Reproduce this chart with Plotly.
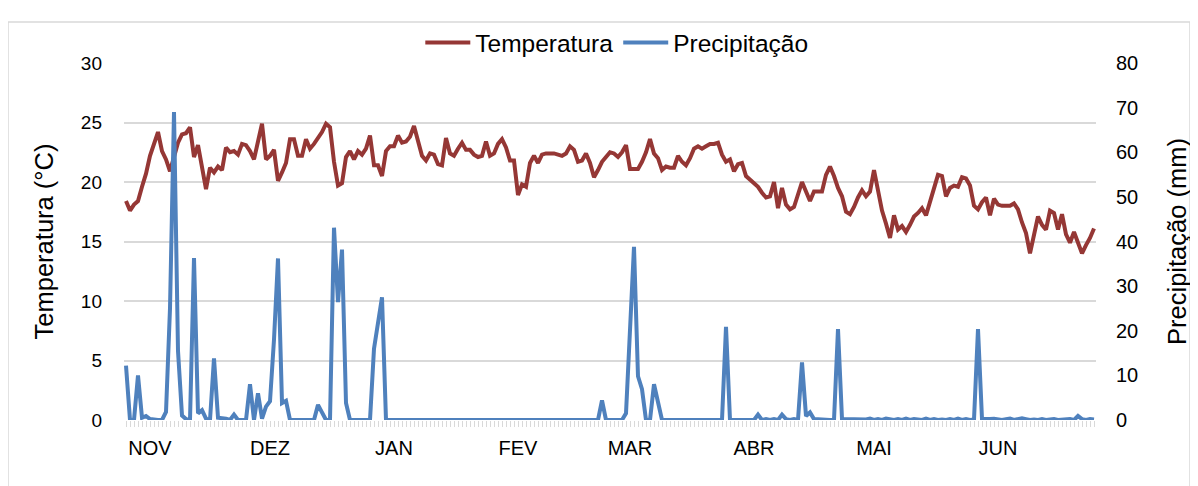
import pandas as pd
import plotly.graph_objects as go

# Daily categories (26 Oct -> 25 Jun)
dates = pd.date_range("2014-10-26", periods=243, freq="D")

month_ticks = ["2014-11-01", "2014-12-01", "2015-01-01", "2015-02-01",
               "2015-03-01", "2015-04-01", "2015-05-01", "2015-06-01"]
month_labels = ["NOV", "DEZ", "JAN", "FEV", "MAR", "ABR", "MAI", "JUN"]

temperatura = [
    18.4, 17.6, 18.1, 18.4, 19.6, 20.7, 22.2, 23.2, 24.2, 22.6,
    21.9, 20.9, 22.0, 23.3, 24.0, 24.1, 24.6, 22.1, 23.1, 21.2,
    19.4, 21.2, 20.8, 21.3, 21.0, 22.9, 22.5, 22.6, 22.3, 23.2,
    23.1, 22.6, 21.9, 23.4, 24.9, 21.9, 22.2, 22.7, 20.1, 20.8,
    21.6, 23.6, 23.6, 22.2, 22.2, 23.6, 22.8, 23.2, 23.7, 24.2,
    24.9, 24.6, 21.7, 19.7, 19.9, 22.1, 22.6, 21.9, 22.6, 22.3,
    22.8, 23.9, 21.4, 21.4, 20.5, 22.6, 23.0, 23.0, 23.9, 23.3,
    23.4, 23.8, 24.7, 23.4, 22.2, 21.8, 22.4, 22.3, 21.5, 21.4,
    23.7, 22.4, 22.2, 22.8, 23.3, 22.7, 22.7, 22.3, 22.1, 22.2,
    23.4, 22.2, 22.4, 23.2, 23.6, 22.9, 21.8, 21.8, 18.9, 19.8,
    19.6, 21.6, 22.2, 21.6, 22.3, 22.4, 22.4, 22.4, 22.3, 22.2,
    22.4, 23.0, 22.7, 21.7, 21.8, 22.4, 21.6, 20.4, 21.0, 21.7,
    22.1, 22.5, 22.4, 22.1, 22.5, 23.1, 21.1, 21.1, 21.1, 21.7,
    22.5, 23.6, 22.4, 22.0, 21.0, 21.3, 21.2, 21.2, 22.2, 21.7,
    21.4, 22.0, 22.8, 23.0, 22.8, 23.0, 23.2, 23.2, 23.3, 22.3,
    21.7, 21.9, 20.9, 21.5, 21.6, 20.5, 20.2, 20.0, 19.6, 19.1,
    18.7, 18.8, 20.0, 17.8, 19.5, 18.1, 17.7, 17.9, 19.0, 20.0,
    19.2, 18.4, 19.2, 19.2, 19.2, 20.6, 21.3, 20.5, 19.5, 18.8,
    17.5, 17.3, 17.9, 18.7, 19.3, 18.8, 19.2, 21.0, 19.2, 17.6,
    16.5, 15.3, 17.2, 16.0, 16.3, 15.8, 16.4, 17.1, 17.4, 17.8,
    17.2, 18.3, 19.6, 20.6, 20.5, 18.8, 19.5, 19.7, 19.6, 20.4,
    20.3, 19.7, 18.0, 17.7, 18.3, 18.7, 17.2, 18.6, 18.1, 18.0,
    18.0, 18.0, 18.2, 17.7, 16.6, 15.7, 14.0, 15.6, 17.1, 16.4,
    16.0, 17.6, 17.4, 16.0, 17.3, 15.6, 14.9, 15.8, 14.9, 14.0,
    14.7, 15.3, 16.1,
]

precipitacao = [
    12.2, 0.0, 0.0, 10.0, 0.5, 0.9, 0.2, 0.0, 0.0, 0.0,
    1.8, 25.0, 69.0, 15.5, 1.0, 0.2, 0.0, 36.3, 1.5, 2.2,
    0.3, 0.0, 13.8, 0.5, 0.5, 0.3, 0.0, 1.2, 0.0, 0.0,
    0.0, 8.0, 0.0, 6.0, 0.3, 3.0, 4.2, 18.0, 36.2, 3.8,
    4.3, 0.0, 0.0, 0.0, 0.0, 0.0, 0.0, 0.0, 3.4, 1.5,
    0.0, 0.0, 43.1, 26.4, 38.2, 3.8, 0.0, 0.0, 0.0, 0.0,
    0.0, 0.0, 16.0, 21.7, 27.5, 0.0, 0.0, 0.0, 0.0, 0.0,
    0.0, 0.0, 0.0, 0.0, 0.0, 0.0, 0.0, 0.0, 0.0, 0.0,
    0.0, 0.0, 0.0, 0.0, 0.0, 0.0, 0.0, 0.0, 0.0, 0.0,
    0.0, 0.0, 0.0, 0.0, 0.0, 0.0, 0.0, 0.0, 0.0, 0.0,
    0.0, 0.0, 0.0, 0.0, 0.0, 0.0, 0.0, 0.0, 0.0, 0.0,
    0.0, 0.0, 0.0, 0.0, 0.0, 0.0, 0.0, 0.0, 0.0, 4.4,
    0.0, 0.0, 0.0, 0.0, 0.0, 1.5, 19.0, 38.8, 9.8, 6.9,
    0.0, 0.0, 8.0, 3.5, 0.0, 0.0, 0.0, 0.2, 0.0, 0.2,
    0.1, 0.0, 0.0, 0.2, 0.0, 0.0, 0.0, 0.0, 0.0, 0.0,
    20.9, 0.0, 0.0, 0.0, 0.0, 0.0, 0.0, 0.0, 1.2, 0.0,
    0.2, 0.0, 0.2, 0.0, 1.2, 0.2, 0.0, 0.2, 0.0, 12.9,
    0.9, 1.7, 0.2, 0.1, 0.0, 0.0, 0.0, 0.0, 20.4, 0.2,
    0.2, 0.0, 0.0, 0.2, 0.0, 0.1, 0.3, 0.0, 0.2, 0.0,
    0.3, 0.1, 0.0, 0.2, 0.0, 0.3, 0.0, 0.2, 0.1, 0.0,
    0.3, 0.0, 0.2, 0.0, 0.1, 0.0, 0.2, 0.0, 0.3, 0.0,
    0.2, 0.0, 0.1, 20.4, 0.2, 0.1, 0.2, 0.3, 0.1, 0.0,
    0.2, 0.3, 0.0, 0.1, 0.4, 0.2, 0.0, 0.1, 0.0, 0.2,
    0.0, 0.1, 0.2, 0.0, 0.1, 0.0, 0.2, 0.0, 0.9, 0.2,
    0.0, 0.2, 0.1,
]

RED = "#953735"
BLUE = "#4F81BD"
GRID = "#D9D9D9"
FONT = "Liberation Sans, Arial, sans-serif"

fig = go.Figure()
fig.add_trace(go.Scatter(x=dates, y=temperatura, name="Temperatura", mode="lines",
                         line=dict(color=RED, width=4), yaxis="y"))
fig.add_trace(go.Scatter(x=dates, y=precipitacao, name="Precipitação", mode="lines",
                         line=dict(color=BLUE, width=4), yaxis="y2"))

x0 = dates[0] - pd.Timedelta(hours=12)
x1 = dates[-1] + pd.Timedelta(hours=12)

# page body has an 8px margin, so the figure is placed at (8, 8)
fig.update_layout(
    width=1190, height=478,
    margin=dict(l=116, r=102, t=46, b=66),
    paper_bgcolor="white", plot_bgcolor="white",
    font=dict(family=FONT, color="black", size=18),
    showlegend=True,
    legend=dict(orientation="h", x=0.507, xanchor="center", y=1.057, yanchor="middle",
                font=dict(size=24.5), itemwidth=45, tracegroupgap=0, bgcolor="rgba(0,0,0,0)"),
    xaxis=dict(
        type="date", range=[x0, x1],
        tickmode="array", tickvals=month_ticks, ticktext=month_labels,
        showgrid=False, zeroline=False,
        showline=False,
        ticks="outside", ticklen=6, tickcolor=GRID, tickwidth=1,
        minor=dict(dtick=86400000, ticks="outside", ticklen=6, tickcolor=GRID, tickwidth=1, showgrid=False),
        tickfont=dict(size=20, color="black"),
        ticklabelstandoff=4,
    ),
    yaxis=dict(
        range=[0, 30], dtick=5, tick0=0,
        showgrid=True, gridcolor=GRID, gridwidth=1.5,
        zeroline=False, showline=False,
        tickfont=dict(size=19, color="black"),
        ticklabelstandoff=21,
        title=dict(text="Temperatura (°C)", font=dict(size=25.5, color="black"), standoff=19),
    ),
    yaxis2=dict(
        range=[0, 80], dtick=10, tick0=0,
        overlaying="y", side="right",
        showgrid=False, zeroline=False, showline=False,
        tickfont=dict(size=20, color="black"),
        ticklabelstandoff=19,
        title=dict(text="Precipitação (mm)", font=dict(size=25.5, color="black"), standoff=30),
    ),
)

# chart-area border
W, H = 972.0, 366.0
fig.add_shape(type="rect", xref="paper", yref="paper",
              x0=(8 - 124) / W, x1=(1190 - 124) / W,
              y0=(420 - 490) / H, y1=(420 - 12) / H,
              line=dict(color=GRID, width=1.5), fillcolor="rgba(0,0,0,0)", layer="below")

fig.write_html("out.html")
